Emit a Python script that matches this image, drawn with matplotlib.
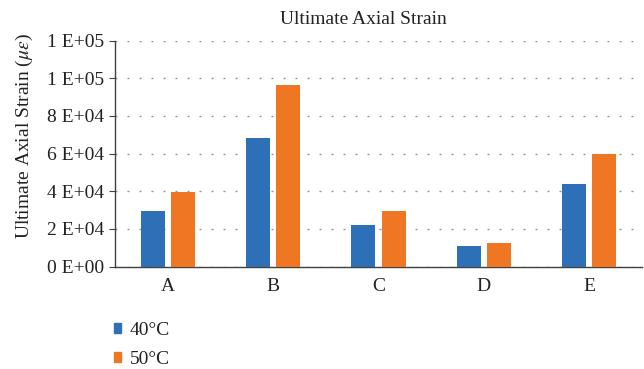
import matplotlib
matplotlib.use("Agg")
import matplotlib.pyplot as plt
import numpy as np
from matplotlib.ticker import FuncFormatter, MultipleLocator
from matplotlib.patches import Patch

categories = ["A", "B", "C", "D", "E"]
series_names = ["40°C", "50°C"]
strain_40 = [29500, 68200, 22000, 10900, 43800]
strain_50 = [39500, 96300, 29400, 12500, 59700]
colors = ["#2E70B8", "#EF7622"]

plt.rcParams['font.family'] = ['Liberation Serif', 'DejaVu Serif']
plt.rcParams['mathtext.fontset'] = 'stix'

fig = plt.figure(figsize=(6.44, 3.69), dpi=100)
ax = fig.add_axes([115/644, 1-266.5/369, (642-115)/644, (266.5-40.5)/369])

x = np.arange(len(categories))
w = 0.228
off = 0.1425
ax.bar(x - off, strain_40, width=w, color=colors[0], zorder=3)
ax.bar(x + off, strain_50, width=w, color=colors[1], zorder=3)

ax.set_xlim(-0.5, len(categories) - 0.5)
ax.set_ylim(0, 120000)
ax.yaxis.set_major_locator(MultipleLocator(20000))

def fmt(v, pos):
    s = f"{v:.0E}"
    m, e = s.split("E")
    return f"{m} E{e}"
ax.yaxis.set_major_formatter(FuncFormatter(fmt))
ax.set_xticks(x)
ax.set_xticklabels(categories)

ax.grid(axis='y', color='#959595', linewidth=1.0, linestyle=(0, (1.44, 7.2)), zorder=0)
for s in ['top', 'right']:
    ax.spines[s].set_visible(False)
ax.spines['left'].set_color('#404040')
ax.spines['bottom'].set_color('#404040')
ax.spines['left'].set_linewidth(1.0)
ax.spines['bottom'].set_linewidth(1.0)
ax.tick_params(axis='y', length=4, width=0.8, color='#404040', labelsize=14, pad=4, labelcolor='#222222')
ax.tick_params(axis='x', length=0, labelsize=14, pad=8, labelcolor='#222222')

fig.text(363/644, 1-19/369, "Ultimate Axial Strain", ha='center', va='center', fontsize=14, color='#222222')
fig.text(24/644, 1-136/369, r"Ultimate Axial Strain ($\mu\varepsilon$)", rotation=90,
         ha='center', va='center', fontsize=14, color='#222222')

handles = [Patch(color=colors[i], label=series_names[i]) for i in range(2)]
leg = fig.legend(handles=handles, loc='upper left', bbox_to_anchor=(114.5/644, 1-322/369),
                 frameon=False, fontsize=14, handlelength=0.36, handleheight=0.36,
                 handletextpad=0.42, labelspacing=0.62, borderaxespad=0, borderpad=0)
for t in leg.get_texts():
    t.set_color('#222222')

fig.savefig("out.png", dpi=100)
